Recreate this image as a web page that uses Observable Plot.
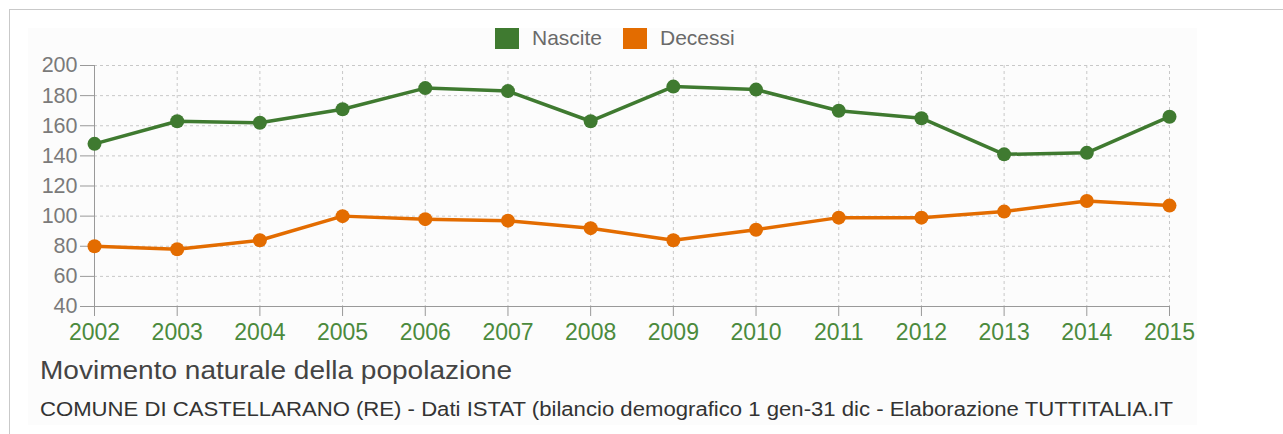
<!DOCTYPE html>
<html>
<head>
<meta charset="utf-8">
<script src="https://cdn.jsdelivr.net/npm/d3@7"></script>
<script src="https://cdn.jsdelivr.net/npm/@observablehq/plot@0.6"></script>
<style>
  html, body { margin: 0; padding: 0; background: #fff; }
  body { font-family: "Liberation Sans", Arial, Helvetica, sans-serif; }
  #frame { position: relative; width: 1283px; height: 434px; overflow: hidden; }
  #border { position: absolute; left: 9px; top: 9px; right: -2px; bottom: -2px; border-top: 1.5px solid #c9c9c9; border-left: 1.5px solid #c9c9c9; }
  #panel { position: absolute; left: 28px; top: 28px; width: 1169px; height: 397px; background: #fcfcfc; }
  #legend { position: absolute; left: 0; top: 0; width: 1283px; height: 45px; }
  .sw { position: absolute; top: 28px; width: 24px; height: 21px; }
  .lt { position: absolute; top: 26px; font-size: 21px; color: #6a6a6a; line-height: 24px; white-space: nowrap; }
  #chart { position: absolute; left: 0; top: 45px; }
  #title { position: absolute; left: 40px; top: 355px; font-size: 26px; color: #444; white-space: nowrap; line-height: 30px; transform-origin: 0 0; }
  #caption { position: absolute; left: 40px; top: 398px; font-size: 19.5px; color: #333; white-space: nowrap; line-height: 22px; transform-origin: 0 0; }
</style>
</head>
<body>
<div id="frame">
  <div id="border"></div>
  <div id="panel"></div>
  <div id="legend"></div>
  <div id="chart"></div>
  <div id="title"></div>
  <div id="caption"></div>
</div>
<script>
const years = [2002, 2003, 2004, 2005, 2006, 2007, 2008, 2009, 2010, 2011, 2012, 2013, 2014, 2015];
const nascite = [148, 163, 162, 171, 185, 183, 163, 186, 184, 170, 165, 141, 142, 166];
const decessi = [80, 78, 84, 100, 98, 97, 92, 84, 91, 99, 99, 103, 110, 107];
const seriesNames = ["Nascite", "Decessi"];
const seriesColors = ["#3f7a30", "#e36c00"];
const yTicks = [40, 60, 80, 100, 120, 140, 160, 180, 200];
const titleText = "Movimento naturale della popolazione";
const captionText = "COMUNE DI CASTELLARANO (RE) - Dati ISTAT (bilancio demografico 1 gen-31 dic - Elaborazione TUTTITALIA.IT";

const data = [];
years.forEach((yr, i) => {
  data.push({year: yr, value: nascite[i], serie: seriesNames[0]});
  data.push({year: yr, value: decessi[i], serie: seriesNames[1]});
});

// Legend
const legend = document.getElementById("legend");
const legendPos = [{sw: 495, tx: 532}, {sw: 623, tx: 660}];
seriesNames.forEach((n, i) => {
  const s = document.createElement("div");
  s.className = "sw";
  s.style.left = legendPos[i].sw + "px";
  s.style.background = seriesColors[i];
  legend.appendChild(s);
  const t = document.createElement("div");
  t.className = "lt";
  t.style.left = legendPos[i].tx + "px";
  t.textContent = n;
  legend.appendChild(t);
});

function fitWidth(el, target) {
  const w = el.getBoundingClientRect().width;
  if (w > 0) el.style.transform = "scaleX(" + (target / w) + ")";
}
const titleEl = document.getElementById("title");
const captionEl = document.getElementById("caption");
titleEl.textContent = titleText;
captionEl.textContent = captionText;
titleEl.style.display = "inline-block";
captionEl.style.display = "inline-block";
fitWidth(titleEl, 472);
fitWidth(captionEl, 1133);

const chart = Plot.plot({
  width: 1283,
  height: 300,
  marginLeft: 94,
  marginRight: 114,
  marginTop: 20,
  marginBottom: 39,
  style: {background: "transparent", fontFamily: "Liberation Sans, Arial, sans-serif", overflow: "visible"},
  x: {domain: [2002, 2015], ticks: years, tickFormat: d3.format("d")},
  y: {domain: [40, 200], ticks: yTicks},
  color: {domain: seriesNames, range: seriesColors},
  marks: [
    Plot.gridX(years, {stroke: "#c8c8c8", strokeOpacity: 1, strokeDasharray: "3,3"}),
    Plot.gridY(yTicks, {stroke: "#c8c8c8", strokeOpacity: 1, strokeDasharray: "3,3"}),
    Plot.axisY({ticks: yTicks, tickSize: 14, tickPadding: 3, fontSize: 21.5, color: "#7a7a7a", stroke: "#999", label: null}),
    Plot.axisX({ticks: years, tickFormat: d3.format("d"), tickSize: 10, tickPadding: 7, fontSize: 23, color: "#4b8a3c", stroke: "#999", label: null}),
    Plot.ruleY([40], {stroke: "#999"}),
    Plot.ruleX([2002], {stroke: "#999"}),
    Plot.line(data, {x: "year", y: "value", z: "serie", stroke: "serie", strokeWidth: 3.5}),
    Plot.dot(data, {x: "year", y: "value", fill: "serie", r: 7})
  ]
});
document.getElementById("chart").appendChild(chart);
</script>
</body>
</html>
